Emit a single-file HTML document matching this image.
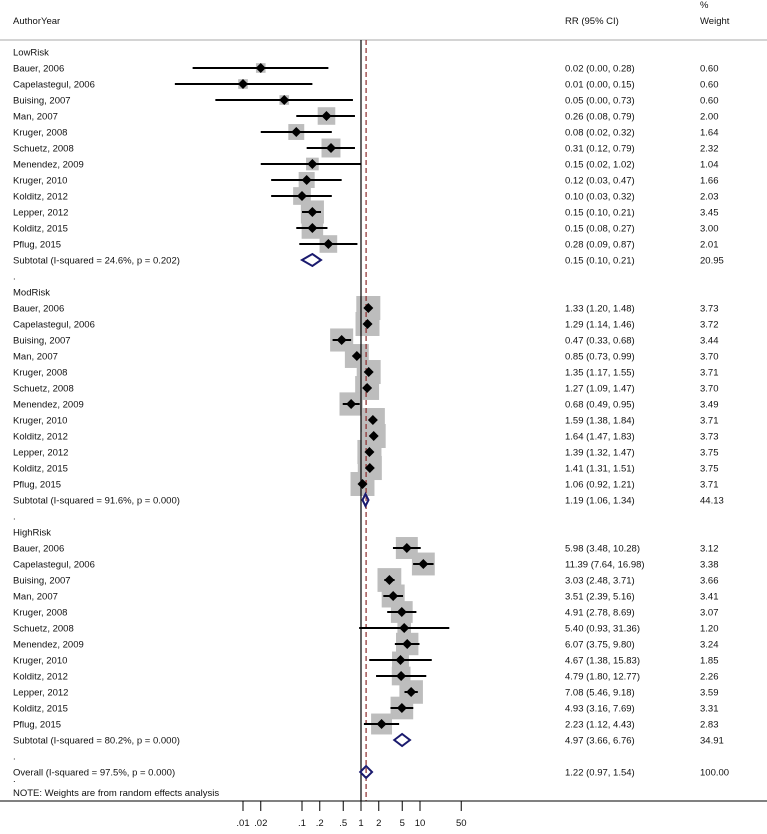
<!DOCTYPE html>
<html><head><meta charset="utf-8"><style>
body{margin:0;background:#fff}
svg text{font-family:"Liberation Sans",Arial,sans-serif;font-size:9.5px;fill:#111}
</style></head><body>
<svg id="plot" width="767" height="829" viewBox="0 0 767 829" xmlns="http://www.w3.org/2000/svg">
<text x="13" y="24">AuthorYear</text>
<text x="565" y="24">RR (95% CI)</text>
<text x="700" y="8">%</text>
<text x="700" y="24">Weight</text>
<line x1="0" y1="40" x2="767" y2="40" stroke="#aaa" stroke-width="1"/>
<g id="marks"></g>
</svg>
<script>
const labels = ["LowRisk","Bauer, 2006","Capelastegul, 2006","Buising, 2007","Man, 2007","Kruger, 2008","Schuetz, 2008","Menendez, 2009","Kruger, 2010","Kolditz, 2012","Lepper, 2012","Kolditz, 2015","Pflug, 2015","Subtotal  (I-squared = 24.6%, p = 0.202)",".",
"ModRisk","Bauer, 2006","Capelastegul, 2006","Buising, 2007","Man, 2007","Kruger, 2008","Schuetz, 2008","Menendez, 2009","Kruger, 2010","Kolditz, 2012","Lepper, 2012","Kolditz, 2015","Pflug, 2015","Subtotal  (I-squared = 91.6%, p = 0.000)",".",
"HighRisk","Bauer, 2006","Capelastegul, 2006","Buising, 2007","Man, 2007","Kruger, 2008","Schuetz, 2008","Menendez, 2009","Kruger, 2010","Kolditz, 2012","Lepper, 2012","Kolditz, 2015","Pflug, 2015","Subtotal  (I-squared = 80.2%, p = 0.000)",".",
"Overall  (I-squared = 97.5%, p = 0.000)"];
// type: h=heading, s=study, d=diamond, b=blank
const types = ["h","s","s","s","s","s","s","s","s","s","s","s","s","d","b","h","s","s","s","s","s","s","s","s","s","s","s","s","d","b","h","s","s","s","s","s","s","s","s","s","s","s","s","d","b","d"];
const est = [null,0.02,0.01,0.05,0.26,0.08,0.31,0.15,0.12,0.10,0.15,0.15,0.28,0.15,null,
null,1.33,1.29,0.47,0.85,1.35,1.27,0.68,1.59,1.64,1.39,1.41,1.06,1.19,null,
null,5.98,11.39,3.03,3.51,4.91,5.40,6.07,4.67,4.79,7.08,4.93,2.23,4.97,null,1.22];
const lo = [null,0.0014,0.0007,0.0034,0.08,0.02,0.12,0.02,0.03,0.03,0.10,0.08,0.09,0.10,null,
null,1.20,1.14,0.33,0.73,1.17,1.09,0.49,1.38,1.47,1.32,1.31,0.92,1.06,null,
null,3.48,7.64,2.48,2.39,2.78,0.93,3.75,1.38,1.80,5.46,3.16,1.12,3.66,null,0.97];
const hi = [null,0.28,0.15,0.73,0.79,0.32,0.79,1.02,0.47,0.32,0.21,0.27,0.87,0.21,null,
null,1.48,1.46,0.68,0.99,1.55,1.47,0.95,1.84,1.83,1.47,1.51,1.21,1.34,null,
null,10.28,16.98,3.71,5.16,8.69,31.36,9.80,15.83,12.77,9.18,7.69,4.43,6.76,null,1.54];
const ciText = [null,"0.02 (0.00, 0.28)","0.01 (0.00, 0.15)","0.05 (0.00, 0.73)","0.26 (0.08, 0.79)","0.08 (0.02, 0.32)","0.31 (0.12, 0.79)","0.15 (0.02, 1.02)","0.12 (0.03, 0.47)","0.10 (0.03, 0.32)","0.15 (0.10, 0.21)","0.15 (0.08, 0.27)","0.28 (0.09, 0.87)","0.15 (0.10, 0.21)",null,
null,"1.33 (1.20, 1.48)","1.29 (1.14, 1.46)","0.47 (0.33, 0.68)","0.85 (0.73, 0.99)","1.35 (1.17, 1.55)","1.27 (1.09, 1.47)","0.68 (0.49, 0.95)","1.59 (1.38, 1.84)","1.64 (1.47, 1.83)","1.39 (1.32, 1.47)","1.41 (1.31, 1.51)","1.06 (0.92, 1.21)","1.19 (1.06, 1.34)",null,
null,"5.98 (3.48, 10.28)","11.39 (7.64, 16.98)","3.03 (2.48, 3.71)","3.51 (2.39, 5.16)","4.91 (2.78, 8.69)","5.40 (0.93, 31.36)","6.07 (3.75, 9.80)","4.67 (1.38, 15.83)","4.79 (1.80, 12.77)","7.08 (5.46, 9.18)","4.93 (3.16, 7.69)","2.23 (1.12, 4.43)","4.97 (3.66, 6.76)",null,"1.22 (0.97, 1.54)"];
const weights = [null,0.60,0.60,0.60,2.00,1.64,2.32,1.04,1.66,2.03,3.45,3.00,2.01,20.95,null,
null,3.73,3.72,3.44,3.70,3.71,3.70,3.49,3.71,3.73,3.75,3.75,3.71,44.13,null,
null,3.12,3.38,3.66,3.41,3.07,1.20,3.24,1.85,2.26,3.59,3.31,2.83,34.91,null,100.00];
const tickVals = [0.01,0.02,0.1,0.2,0.5,1,2,5,10,50];
const tickLabels = [".01",".02",".1",".2",".5","1","2","5","10","50"];
const overallEst = 1.22;

const NS="http://www.w3.org/2000/svg";
const svg=document.getElementById('marks');
const xS=v=>361+59*Math.log10(v);
const yS=i=>52+i*16;
const axisY=801;
function el(tag,attrs,parent){const e=document.createElementNS(NS,tag);for(const k in attrs)e.setAttribute(k,attrs[k]);(parent||svg).appendChild(e);return e;}

// boxes first (behind)
for(let i=0;i<labels.length;i++){
  if(types[i]!=="s")continue;
  const s=12.43*Math.sqrt(weights[i]);
  const r=el('rect',{x:xS(est[i])-s/2,y:yS(i)-s/2,width:s,height:s,fill:'#bdbdbd'});
  
  
}
// reference lines
const nl=el('line',{x1:361,y1:40,x2:361,y2:axisY,stroke:'#000','stroke-width':1.2});


const ol=el('line',{x1:xS(overallEst),y1:40,x2:xS(overallEst),y2:axisY,stroke:'#8b2a2a','stroke-width':1.2,'stroke-dasharray':'5,3'});



for(let i=0;i<labels.length;i++){
  const y=yS(i);
  const t=el('text',{x:13,y:y+3.5});t.textContent=labels[i];
  
  
  if(types[i]==="s"){
    const l=el('line',{x1:xS(lo[i]),y1:y,x2:xS(hi[i]),y2:y,stroke:'#000','stroke-width':2});
    
    
    const cx=xS(est[i]);
    const p=el('polygon',{points:`${cx-5},${y} ${cx},${y-5} ${cx+5},${y} ${cx},${y+5}`,fill:'#000'});
    
    
  }
  if(types[i]==="d"){
    const a=xS(lo[i]),b=xS(hi[i]),c=xS(est[i]);
    const p=el('polygon',{points:`${a},${y} ${c},${y-6} ${b},${y} ${c},${y+6}`,fill:'none',stroke:'#1a1a6e','stroke-width':2});
    
    
  }
  if(ciText[i]){
    const c=el('text',{x:565,y:y+3.5});c.textContent=ciText[i];
    
    
    const w=el('text',{x:700,y:y+3.5});w.textContent=weights[i].toFixed(2);
    
    
  }
}
const dot=el('text',{x:13,y:782});dot.textContent=".";


const note=el('text',{x:13,y:796});note.textContent="NOTE: Weights are from random effects analysis";


const ax=el('line',{x1:0,y1:axisY,x2:767,y2:axisY,stroke:'#000','stroke-width':1});


for(let k=0;k<tickVals.length;k++){
  const x=xS(tickVals[k]);
  const tk=el('line',{x1:x,y1:axisY,x2:x,y2:axisY+10,stroke:'#000','stroke-width':1});
  
  
  const tl=el('text',{x:x,y:826,'text-anchor':'middle'});tl.textContent=tickLabels[k];
  
  
}
</script>
</body></html>
